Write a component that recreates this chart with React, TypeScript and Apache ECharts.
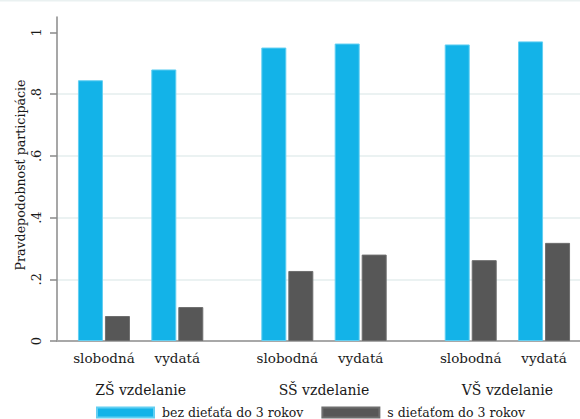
import React, { useEffect, useRef } from "react";
import * as echarts from "echarts";

const groups = ["ZŠ vzdelanie", "SŠ vzdelanie", "VŠ vzdelanie"];
const subCategories = ["slobodná", "vydatá"];
const seriesNames = ["bez dieťaťa do 3 rokov", "s dieťaťom do 3 rokov"];
const withoutChild = [0.845, 0.88, 0.951, 0.964, 0.961, 0.971];
const withChild = [0.081, 0.11, 0.227, 0.28, 0.262, 0.318];
const yTicks = [0, 0.2, 0.4, 0.6, 0.8, 1];
const yTickLabels = ["0", ".2", ".4", ".6", ".8", "1"];

const FONT = "DejaVu Serif";
const CYAN = "#13b3e8";
const GRAY = "#575757";

// x position of each (group, sub) slot on the value axis
const slotX: number[] = [];
const slotLabel: string[] = [];
groups.forEach((_, g) =>
  subCategories.forEach((s, i) => {
    slotX.push(g * 5 + i * 2);
    slotLabel.push(s);
  })
);
const groupX = groups.map((_, g) => g * 5 + 1);

export default function App() {
  const ref = useRef<HTMLDivElement>(null);
  useEffect(() => {
    if (!ref.current) return;
    const chart = echarts.init(ref.current, null, { renderer: "svg" });
    chart.setOption({
      animation: false,
      backgroundColor: "#ffffff",
      textStyle: { fontFamily: FONT },
      grid: { left: 57, right: 0, top: 17, bottom: 78, containLabel: false },
      xAxis: [
        {
          type: "value",
          min: -1.28,
          max: 12.98,
          axisLine: { show: true, onZero: false, lineStyle: { color: "#a8a8a8", width: 2 } },
          axisTick: { show: false },
          splitLine: { show: false },
          axisLabel: {
            customValues: slotX,
            formatter: (v: number) => {
              const k = slotX.findIndex((x) => Math.abs(x - v) < 1e-6);
              return k >= 0 ? slotLabel[k] : "";
            },
            color: "#1a1a1a",
            fontFamily: FONT,
            fontSize: 13.5,
            margin: 10,
          },
        },
        {
          type: "value",
          min: -1.28,
          max: 12.98,
          position: "bottom",
          axisLine: { show: false, onZero: false },
          axisTick: { show: false },
          splitLine: { show: false },
          axisLabel: {
            customValues: groupX,
            formatter: (v: number) => {
              const k = groupX.findIndex((x) => Math.abs(x - v) < 1e-6);
              return k >= 0 ? groups[k] : "";
            },
            color: "#1a1a1a",
            fontFamily: FONT,
            fontSize: 14,
            margin: 42,
          },
        },
      ],
      yAxis: {
        type: "value",
        min: 0,
        max: 1.05,
        axisLine: { show: true, onZero: false, lineStyle: { color: "#8a8a8a", width: 1.5 } },
        axisTick: {
          show: true,
          length: 7,
          customValues: yTicks,
          lineStyle: { color: "#8a8a8a", width: 1.5 },
        },
        splitLine: {
          show: true,
          showMinLine: false,
          showMaxLine: false,
          lineStyle: { color: "#e4eeee", width: 1.5 },
        },
        axisLabel: {
          customValues: yTicks,
          rotate: 90,
          margin: 14,
          color: "#1a1a1a",
          fontFamily: FONT,
          fontSize: 13,
          formatter: (v: number) => {
            const k = yTicks.findIndex((t) => Math.abs(t - v) < 1e-6);
            return k >= 0 ? yTickLabels[k] : "";
          },
        },
      },
      legend: {
        left: 96,
        top: 406,
        padding: 0,
        itemWidth: 57,
        itemHeight: 10,
        itemGap: 18,
        icon: "rect",
        textStyle: {
          fontFamily: FONT,
          fontSize: 12.5,
          lineHeight: 12,
          color: "#1a1a1a",
          padding: [0, 0, 0, 3],
        },
        data: seriesNames,
      },
      graphic: [
        {
          type: "rect",
          shape: { x: 0, y: 0, width: 580, height: 1.5 },
          style: { fill: "#eaf1f1" },
          silent: true,
        },
        {
          type: "text",
          x: 20,
          y: 175,
          rotation: Math.PI / 2,
          style: {
            text: "Pravdepodobnosť participácie",
            fontFamily: FONT,
            fontSize: 12.6,
            fill: "#1a1a1a",
            align: "center",
            verticalAlign: "middle",
          },
        },
      ],
      series: [
        {
          name: seriesNames[0],
          type: "bar",
          xAxisIndex: 0,
          barWidth: 25,
          barGap: "8%",
          itemStyle: { color: CYAN, borderColor: "#62cff2", borderWidth: 1 },
          data: withoutChild.map((v, i) => [slotX[i], v]),
        },
        {
          name: seriesNames[1],
          type: "bar",
          xAxisIndex: 0,
          barWidth: 25,
          barGap: "8%",
          itemStyle: { color: GRAY, borderColor: "#6e6e6e", borderWidth: 1 },
          data: withChild.map((v, i) => [slotX[i], v]),
        },
      ],
    });
    return () => chart.dispose();
  }, []);
  return (
    <div
      ref={ref}
      style={{ position: "fixed", left: 0, top: 0, width: 580, height: 419 }}
    />
  );
}
